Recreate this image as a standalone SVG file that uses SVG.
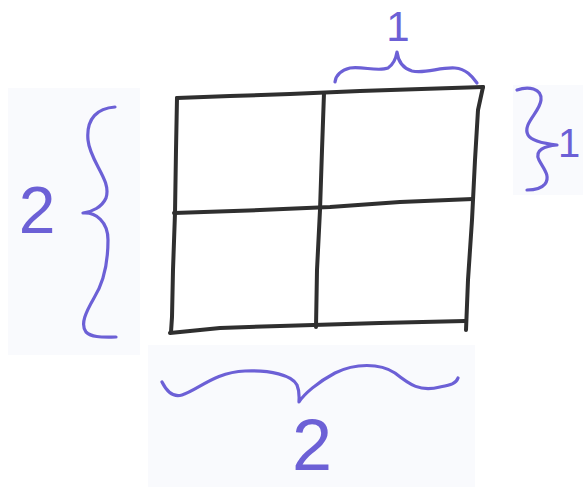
<svg xmlns="http://www.w3.org/2000/svg" width="583" height="487" viewBox="0 0 583 487">
<style>
.grid{fill:none;stroke:#2f2f2f;stroke-width:4;stroke-linecap:round;stroke-linejoin:round}
.brace{fill:none;stroke:#6c60d6;stroke-width:3.2;stroke-linecap:round;stroke-linejoin:round}
.lbl{font-family:"Liberation Sans",Arial,sans-serif;fill:#6c60d6;text-anchor:middle}
.bg{fill:#f9fafd}
</style>
<rect width="583" height="487" fill="#ffffff"/>
<rect class="bg" x="8" y="88" width="132" height="267"/>
<rect class="bg" x="148" y="345" width="327" height="142"/>
<rect class="bg" x="513" y="85" width="70" height="110"/>
<g id="grid">
<path class="grid" d="M177,98 L230,96 L290,94 L360,91 L483,87"/>
<path class="grid" d="M483,87 L478,110 L475,160 L472,220 L468,280 L466,330"/>
<path class="grid" d="M177,98 L176,150 L175,213 L173,270 L172,317 L171,332"/>
<path class="grid" d="M170,333 L220,328 L280,326 L380,323 L465,321"/>
<path class="grid" d="M324,93 L322,150 L320,210 L317,270 L316,327"/>
<path class="grid" d="M174,213 L260,210 L330,207 L400,202 L473,199"/>
</g>
<g id="brace-top">
<path class="brace" d="M335,82 C336,74 342,70 350,68 C362,66 378,72 388,68 C394,64 396,58 397,52 C398,60 402,68 412,71 C425,74 440,67 455,68 C466,69 472,76 477,83"/>
<text class="lbl" x="398" y="41" font-size="42">1</text>
</g>
<g id="brace-right">
<path class="brace" d="M517,90 C528,86 542,88 541,100 C540,112 522,124 528,135 C532,142 548,144 557,145 C545,146 534,150 539,160 C543,168 551,176 545,184 C541,189 533,190 527,190"/>
<text class="lbl" x="569" y="157" font-size="40">1</text>
</g>
<g id="brace-left">
<path class="brace" d="M115,107 C98,108 86,118 88,140 C90,162 112,180 106,198 C102,207 92,212 83,213 C96,212 108,222 108,240 C108,262 104,282 94,298 C86,312 80,324 86,332 C92,338 104,337 116,337"/>
<text class="lbl" x="37" y="233" font-size="66">2</text>
</g>
<g id="brace-bottom">
<path class="brace" d="M162,382 C166,390 172,398 182,395 C198,390 215,372 245,371 C270,370 292,375 297,385 C300,392 299,398 299,402 C304,394 318,382 335,373 C355,363 380,363 395,373 C410,385 420,392 440,387 C450,385 456,384 458,378"/>
<text class="lbl" x="312" y="470" font-size="72">2</text>
</g>
</svg>
